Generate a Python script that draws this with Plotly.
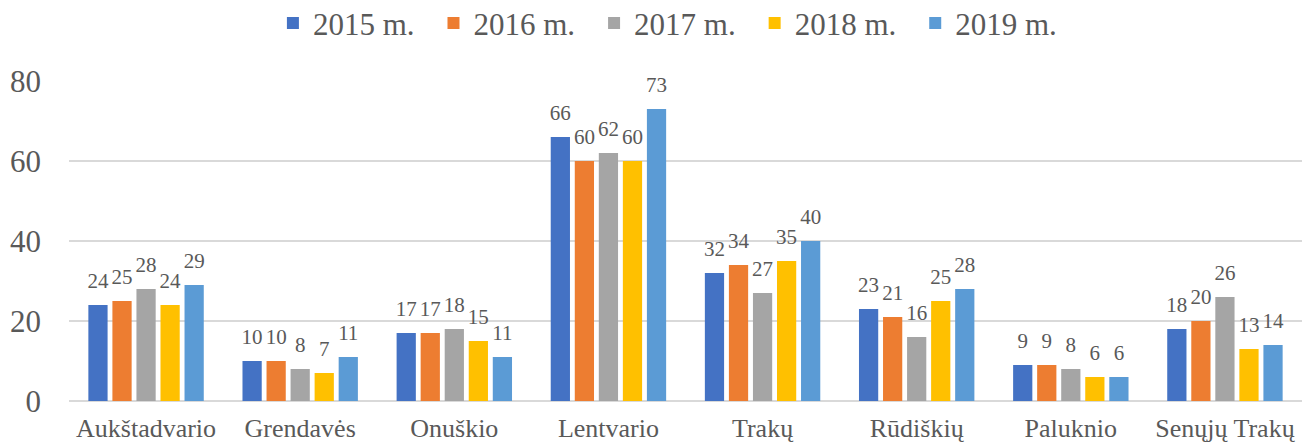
import plotly.graph_objects as go

categories = ["Aukštadvario", "Grendavės", "Onuškio", "Lentvario", "Trakų", "Rūdiškių", "Paluknio", "Senųjų Trakų"]
series_names = ["2015 m.", "2016 m.", "2017 m.", "2018 m.", "2019 m."]
v2015 = [24, 10, 17, 66, 32, 23, 9, 18]
v2016 = [25, 10, 17, 60, 34, 21, 9, 20]
v2017 = [28, 8, 18, 62, 27, 16, 8, 26]
v2018 = [24, 7, 15, 60, 35, 25, 6, 13]
v2019 = [29, 11, 11, 73, 40, 28, 6, 14]
y_ticks = [0, 20, 40, 60, 80]

colors = ["#4472C4", "#ED7D31", "#A5A5A5", "#FFC000", "#5B9BD5"]
values = [v2015, v2016, v2017, v2018, v2019]

font_family = "Liberation Serif"
text_color = "#595959"
GAP = 0.22

fig = go.Figure()
for name, vals, col in zip(series_names, values, colors):
    fig.add_trace(go.Bar(
        x=categories, y=vals, name=name + "\u00a0\u2009",
        offsetgroup=name,
        marker=dict(color=col, line=dict(width=0)),
        hoverinfo="x+y+name",
    ))
for name, vals in zip(series_names, values):
    fig.add_trace(go.Scatter(
        x=categories, y=vals, mode="markers+text", offsetgroup=name,
        text=[str(v) for v in vals], textposition="top center",
        textfont=dict(family=font_family, size=21, color=text_color),
        marker=dict(size=18, opacity=0),
        showlegend=False, hoverinfo="skip", cliponaxis=False,
    ))

fig.update_layout(
    width=1307, height=444,
    margin=dict(l=69, r=5, t=81, b=43, autoexpand=False),
    paper_bgcolor="white", plot_bgcolor="white",
    barmode="group", bargap=GAP, bargroupgap=0.2,
    scattermode="group", scattergap=GAP,
    font=dict(family=font_family, color=text_color),
    showlegend=True,
    legend=dict(orientation="h", xref="container", x=0.516, xanchor="center",
                yref="paper", y=1.18, yanchor="middle",
                font=dict(family=font_family, size=31, color=text_color),
                itemwidth=30, traceorder="normal"),
)
fig.update_xaxes(showgrid=False, showline=False, ticks="", automargin=False,
                 tickfont=dict(family=font_family, size=26, color=text_color),
                 ticklabelstandoff=9)
fig.update_yaxes(range=[0, 80], tickvals=y_ticks, showgrid=True, gridcolor="#D9D9D9", gridwidth=2,
                 zeroline=True, zerolinecolor="#D9D9D9", zerolinewidth=2, showline=False,
                 tickfont=dict(family=font_family, size=31, color=text_color), ticklen=0,
                 ticks="", ticklabelstandoff=27, automargin=False)

fig.write_html("out.html", config={"displayModeBar": False},
               post_script="document.body.style.margin='0';")
